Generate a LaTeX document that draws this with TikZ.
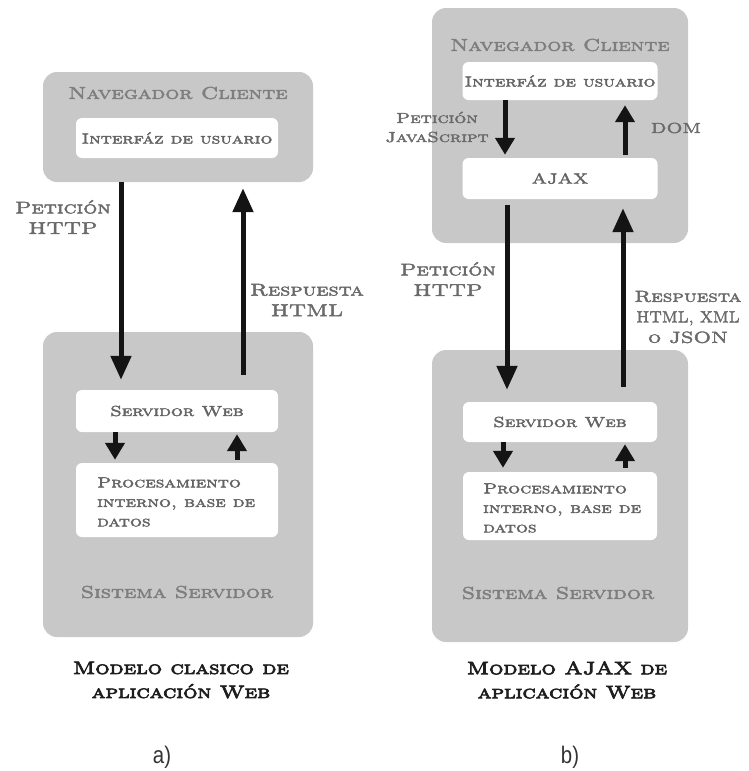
\documentclass[tikz,border=0pt]{standalone}
\usepackage{fontspec}
\usepackage{graphicx}
\usetikzlibrary{arrows.meta}

% small-caps serif for all labels, a light sans for the panel letters
\newfontfamily\capsfont[FakeBold=2.8,FakeStretch=1.3]{lmromancaps10-regular.otf}
\newfontfamily\capsboldfont[FakeBold=4.2,FakeStretch=1.25]{lmromancaps10-regular.otf}
\newfontfamily\lettersans[FakeStretch=0.85]{Liberation Sans}
\newcommand{\squeezed}[1]{\scalebox{0.77}[1]{#1}}

\definecolor{boxgray}{HTML}{C8C8C8}
\definecolor{titlegray}{HTML}{7E7E7E}
\definecolor{innergray}{HTML}{646464}
\definecolor{labelgray}{HTML}{6A6A6A}
\definecolor{captionblack}{HTML}{1E1E1E}
\definecolor{arrowblack}{HTML}{141414}

\tikzset{
  graybox/.style={fill=boxgray, rounded corners=14pt, inner sep=0pt},
  whitebox/.style={fill=white, rounded corners=6pt, inner sep=0pt},
  boxtitle/.style={text=titlegray, font=\capsfont\fontsize{17}{19}\selectfont, inner sep=0pt},
  innertext/.style={text=innergray, font=\capsfont\fontsize{14.5}{19.5}\selectfont, inner sep=0pt},
  flowlabel/.style={text=labelgray, font=\capsfont\fontsize{17}{20.5}\selectfont, align=center, inner sep=0pt},
  jslabel/.style={text=labelgray, font=\capsfont\fontsize{14.5}{19}\selectfont, align=center, inner sep=0pt},
  caption/.style={text=captionblack, font=\capsboldfont\fontsize{18}{24}\selectfont, align=center, inner sep=0pt},
  panelletter/.style={text=black!80, font=\lettersans\fontsize{24}{26}\selectfont, inner sep=0pt},
  bigarrow/.style={draw=arrowblack, line width=5pt, -{Triangle[width=20pt,length=24pt]}},
  smallarrow/.style={draw=arrowblack, line width=5pt, -{Triangle[width=19pt,length=17pt]}},
}

\begin{document}
\begin{tikzpicture}[x=1pt,y=-1pt]
\useasboundingbox (0,0) rectangle (749,771);

% ---------- a) classic model ----------
\node[graybox, minimum width=270pt, minimum height=110pt] (navA) at (178,127) {};
\node[boxtitle] (navAt) at (178,93) {Navegador Cliente};
\node[whitebox, minimum width=202pt, minimum height=40pt] (uiA) at (177,138) {};
\node[innertext] (uiAt) at (uiA) {Interfáz de usuario};

\node[graybox, minimum width=270pt, minimum height=305pt] (sysA) at (178,484.5) {};
\node[whitebox, minimum width=202pt, minimum height=42pt] (webA) at (177,411) {};
\node[innertext] (webAt) at (webA) {Servidor Web};
\node[whitebox, minimum width=202pt, minimum height=74pt] (dbA) at (177,500) {};
\node[innertext, anchor=west, align=left] (dbAt) at (97,502) {Procesamiento\\interno, base de\\datos};
\node[boxtitle] (sysAt) at (177,592) {Sistema Servidor};

\draw[bigarrow] ([xshift=-57pt]navA.south) -- ([xshift=-56pt,yshift=10pt]webA.north);
\draw[bigarrow] ([xshift=66pt,yshift=15pt]webA.north) -- ([xshift=65pt,yshift=-6pt]navA.south);
\draw[smallarrow] ([xshift=-62pt]webA.south) -- ([xshift=-62pt,yshift=3pt]dbA.north);
\draw[smallarrow] ([xshift=60pt,yshift=3pt]dbA.north) -- ([xshift=60pt,yshift=-2pt]webA.south);

\node[flowlabel] (reqA) at (63,217) {Petición\\HTTP};
\node[flowlabel] (respA) at (307,300) {Respuesta\\HTML};

\node[caption] (capA) at (181,680) {Modelo clasico de\\aplicación Web};
\node[panelletter] (letA) at (162,757) {a)};

% ---------- b) AJAX model ----------
\node[graybox, minimum width=256pt, minimum height=235pt] (navB) at (560,125.5) {};
\node[boxtitle] (navBt) at (560,45) {Navegador Cliente};
\node[whitebox, minimum width=195pt, minimum height=38pt] (uiB) at (560,81) {};
\node[innertext] (uiBt) at (uiB) {Interfáz de usuario};
\node[whitebox, minimum width=195pt, minimum height=41pt] (ajaxB) at (560,178.5) {};
\node[innertext] (ajaxBt) at (ajaxB) {AJAX};

\draw[smallarrow] ([xshift=-55pt]uiB.south) -- ([xshift=-55pt,yshift=3pt]ajaxB.north);
\draw[smallarrow] ([xshift=65pt,yshift=3pt]ajaxB.north) -- ([xshift=65pt,yshift=-5pt]uiB.south);
\node[jslabel] (jsB) at (437,127) {Petición\\JavaScript};
\node[jslabel] (domB) at (676,128) {DOM};

\node[graybox, minimum width=256pt, minimum height=292pt] (sysB) at (560,496) {};
\node[whitebox, minimum width=194pt, minimum height=40pt] (webB) at (560,422) {};
\node[innertext] (webBt) at (webB) {Servidor Web};
\node[whitebox, minimum width=194pt, minimum height=68pt] (dbB) at (560,506) {};
\node[innertext, anchor=west, align=left] (dbBt) at (483,508) {Procesamiento\\interno, base de\\datos};
\node[boxtitle] (sysBt) at (558,593) {Sistema Servidor};

\draw[bigarrow] ([xshift=-53pt,yshift=-6pt]ajaxB.south) -- ([xshift=-53pt,yshift=12pt]webB.north);
\draw[bigarrow] ([xshift=63pt,yshift=15pt]webB.north) -- ([xshift=63pt,yshift=-9pt]ajaxB.south);
\draw[smallarrow] ([xshift=-57pt]webB.south) -- ([xshift=-57pt,yshift=4pt]dbB.north);
\draw[smallarrow] ([xshift=65pt,yshift=4pt]dbB.north) -- ([xshift=65pt,yshift=-2pt]webB.south);

\node[flowlabel] (reqB) at (448,279) {Petición\\HTTP};
\node[flowlabel, font=\capsfont\fontsize{16}{20.5}\selectfont] (respB) at (688,317) {Respuesta\\\squeezed{HTML, XML}\\o JSON};

\node[caption] (capB) at (567,680) {Modelo AJAX de\\aplicación Web};
\node[panelletter] (letB) at (570,757) {b)};
\end{tikzpicture}
\end{document}
